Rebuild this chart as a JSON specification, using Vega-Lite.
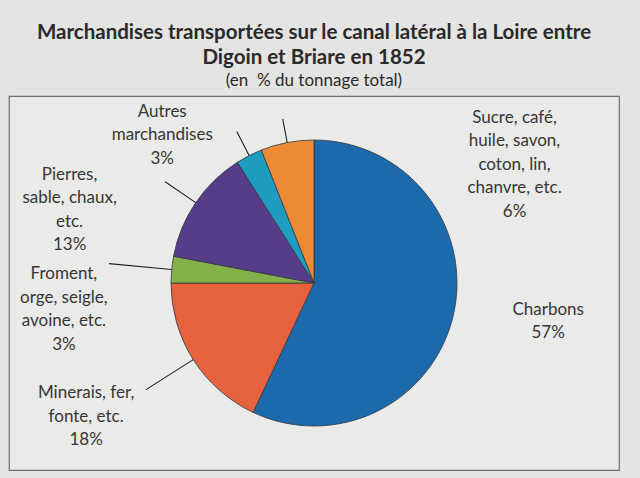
{
  "$schema": "https://vega.github.io/schema/vega-lite/v6.json",
  "width": 610,
  "height": 374,
  "autosize": {"type": "none"},
  "padding": {"left": 9, "top": 96, "right": 21, "bottom": 8},
  "background": "#e4e4e2",
  "view": {"fill": "#eaeae8", "stroke": "#6e6e6e", "strokeWidth": 1.2},
  "title": {
    "text": ["Marchandises transportées sur le canal latéral à la Loire entre", "Digoin et Briare en 1852"],
    "subtitle": "(en\u00a0 % du tonnage total)",
    "font": "Lato",
    "fontSize": 20.5,
    "fontWeight": "bold",
    "color": "#2a2a2a",
    "lineHeight": 25,
    "subtitleFont": "Lato",
    "subtitleFontSize": 17,
    "subtitleColor": "#2a2a2a",
    "subtitlePadding": 5,
    "anchor": "middle",
    "offset": 7
  },
  "data": {
    "values": [
      {"cat": "Charbons", "value": 57, "order": 1, "label": ["Charbons", "57%"]},
      {"cat": "Minerais", "value": 18, "order": 2, "label": ["Minerais, fer,", "fonte, etc.", "18%"]},
      {"cat": "Froment", "value": 3, "order": 3, "label": ["Froment,", "orge, seigle,", "avoine, etc.", "3%"]},
      {"cat": "Pierres", "value": 13, "order": 4, "label": ["Pierres,", "sable, chaux,", "etc.", "13%"]},
      {"cat": "Autres", "value": 3, "order": 5, "label": ["Autres", "marchandises", "3%"]},
      {"cat": "Sucre", "value": 6, "order": 6, "label": ["Sucre, café,", "huile, savon,", "coton, lin,", "chanvre, etc.", "6%"]}
    ]
  },
  "layer": [
    {
      "mark": {"type": "arc", "outerRadius": 143, "stroke": "#2f3a45", "strokeWidth": 0.8},
      "encoding": {
        "theta": {"field": "value", "type": "quantitative", "stack": true},
        "order": {"field": "order", "type": "quantitative"},
        "color": {
          "field": "cat",
          "type": "nominal",
          "scale": {
            "domain": ["Charbons", "Minerais", "Froment", "Pierres", "Autres", "Sucre"],
            "range": ["#1c6aab", "#e5623d", "#84b04a", "#573c8a", "#1f9cc0", "#ec8a35"]
          },
          "legend": null
        }
      }
    },
    {
      "mark": {
        "type": "arc",
        "padAngle": 3.1416,
        "innerRadius": 143,
        "outerRadius": {"expr": "datum.cat == 'Minerais' ? 199 : datum.cat == 'Froment' ? 206 : datum.cat == 'Autres' ? 170 : datum.cat == 'Pierres' ? 180 : 167"},
        "fillOpacity": 0,
        "stroke": "#222222",
        "strokeWidth": 1.1,
        "strokeOpacity": {"expr": "datum.cat == 'Charbons' ? 0 : 1"}
      },
      "encoding": {
        "theta": {"field": "value", "type": "quantitative", "stack": true},
        "order": {"field": "order", "type": "quantitative"}
      }
    },
    {
      "mark": {
        "type": "text",
        "radius": 200,
        "font": "Lato",
        "fontSize": 17,
        "lineHeight": 23.5,
        "color": "#363636",
        "align": "center",
        "baseline": "middle",
        "dx": {"expr": "datum.cat == 'Charbons' ? 39 : datum.cat == 'Minerais' ? -59 : datum.cat == 'Froment' ? -51 : datum.cat == 'Pierres' ? -79 : datum.cat == 'Autres' ? -61 : 238"},
        "dy": {"expr": "datum.cat == 'Charbons' ? -17 : datum.cat == 'Minerais' ? 3 : datum.cat == 'Froment' ? 10 : datum.cat == 'Pierres' ? 4 : datum.cat == 'Autres' ? 7 : 31"}
      },
      "encoding": {
        "theta": {"field": "value", "type": "quantitative", "stack": true},
        "order": {"field": "order", "type": "quantitative"},
        "text": {"field": "label", "type": "nominal"}
      }
    }
  ]
}
